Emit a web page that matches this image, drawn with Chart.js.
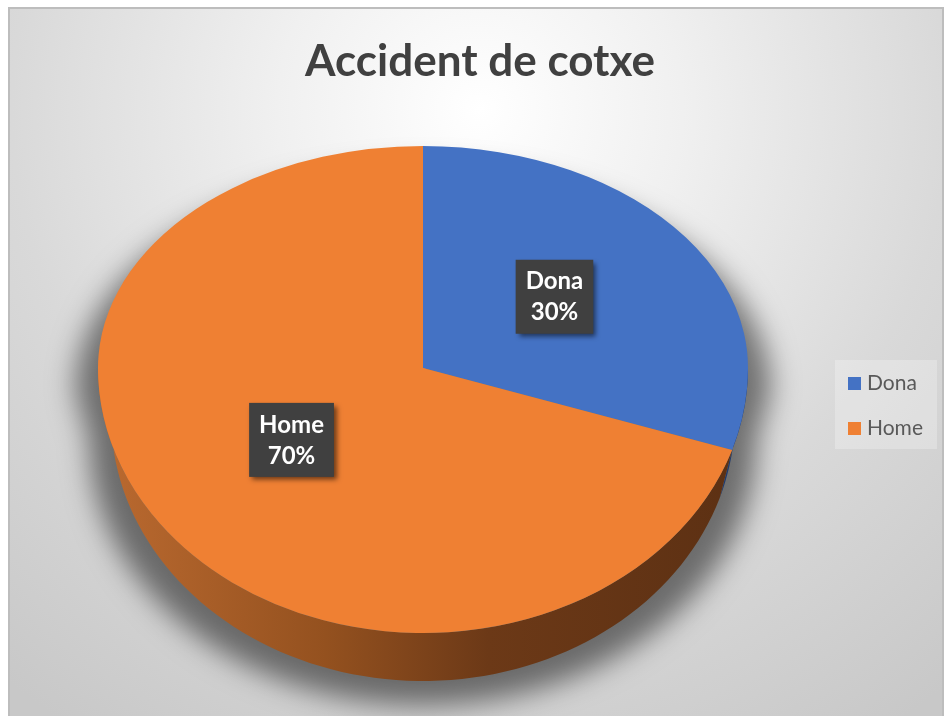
<!DOCTYPE html>
<html>
<head>
<meta charset="utf-8">
<script src="https://cdn.jsdelivr.net/npm/chart.js@4.4.1/dist/chart.umd.min.js"></script>
<style>
  html, body { margin: 0; padding: 0; background: #fff; }
  canvas { display: block; }
</style>
</head>
<body>
<canvas id="chart" width="946" height="716"></canvas>
<script>
// --- data ---
const categories = ['Dona', 'Home'];
const values = [30, 70];
const chartTitle = 'Accident de cotxe';

// --- style ---
const sliceColors = ['#4472c4', '#ef8033'];
const wallStops = [
    [[0, '#2f4f8c'], [1, '#1f3a6c']],
    [[0, '#bb6a30'], [0.35, '#94511f'], [0.6, '#6c3917'], [1, '#5c3013']]
];
// perspective pie: top face is split at cy, upper half flatter than lower half;
// the base ellipse sits lower and a bit narrower so the side tapers at both ends
const PIE = { cx: 423, cy: 368, rx: 325, ryTop: 222, ryBottom: 265, depth: 48, baseRx: 312 };

function ellipsePoint(t, f, dy, rx) {
    const ry = Math.sin(t) < 0 ? PIE.ryTop : PIE.ryBottom;
    return [PIE.cx + f * (rx || PIE.rx) * Math.cos(t), PIE.cy + f * ry * Math.sin(t) + dy];
}

function outlinePath(ctx, sx, shiftX) {
    const steps = 120;
    ctx.beginPath();
    for (let s = 0; s <= steps; s++) {
        const [x, y] = ellipsePoint(Math.PI + Math.PI * s / steps, 1, 0);
        const px = PIE.cx + (x - PIE.cx) * sx + shiftX;
        s ? ctx.lineTo(px, y) : ctx.moveTo(px, y);
    }
    for (let s = 0; s <= steps; s++) {
        const [x, y] = ellipsePoint(Math.PI * s / steps, 1, PIE.depth, PIE.baseRx);
        ctx.lineTo(PIE.cx + (x - PIE.cx) * sx + shiftX, y);
    }
    ctx.closePath();
}

const background = {
    id: 'background',
    beforeDraw(chart) {
        const ctx = chart.ctx;
        ctx.save();
        ctx.fillStyle = '#ffffff';
        ctx.fillRect(0, 0, chart.width, chart.height);
        const g = ctx.createRadialGradient(480, 110, 0, 480, 110, 780);
        g.addColorStop(0, '#ffffff');
        g.addColorStop(0.26, '#f0f0f0');
        g.addColorStop(0.6, '#d9d9d9');
        g.addColorStop(0.95, '#c8c8c8');
        ctx.fillStyle = g;
        ctx.fillRect(8, 7, 936, 709);
        ctx.strokeStyle = '#bdbdbd';
        ctx.lineWidth = 2;
        ctx.strokeRect(9, 8, 934, 712);
        ctx.restore();
    }
};

const pie3d = {
    id: 'pie3d',
    beforeDatasetsDraw(chart) {
        const ctx = chart.ctx;
        const arcs = chart.getDatasetMeta(0).data;
        // soft shadow behind the cylinder (shape drawn off-canvas, only its shadow lands here)
        ctx.save();
        ctx.shadowColor = 'rgba(0,0,0,0.5)';
        ctx.shadowBlur = 28;
        ctx.shadowOffsetX = -3000;
        ctx.shadowOffsetY = 24;
        ctx.fillStyle = '#000';
        outlinePath(ctx, 1.07, 3000);
        ctx.fill();
        ctx.restore();
        // front walls
        arcs.forEach((arc, i) => {
            const g = ctx.createLinearGradient(PIE.cx - PIE.rx, 0, PIE.cx + PIE.rx, 0);
            wallStops[i].forEach(([p, c]) => g.addColorStop(p, c));
            [-2 * Math.PI, 0, 2 * Math.PI].forEach(k => {
                const lo = Math.max(arc.startAngle, k);
                const hi = Math.min(arc.endAngle, k + Math.PI);
                if (lo >= hi) return;
                const steps = 80;
                ctx.beginPath();
                for (let s = 0; s <= steps; s++) {
                    const [x, y] = ellipsePoint(lo + (hi - lo) * s / steps, 1, 0);
                    s ? ctx.lineTo(x, y) : ctx.moveTo(x, y);
                }
                for (let s = steps; s >= 0; s--) {
                    const [x, y] = ellipsePoint(lo + (hi - lo) * s / steps, 1, PIE.depth, PIE.baseRx);
                    ctx.lineTo(x, y);
                }
                ctx.closePath();
                ctx.fillStyle = g;
                ctx.fill();
            });
        });
    },
    beforeDatasetDraw(chart, args) {
        const ctx = chart.ctx;
        const arcs = args.meta.data;
        const r = arcs[0].outerRadius;
        const ox = arcs[0].x, oy = arcs[0].y;
        [[true, PIE.ryTop], [false, PIE.ryBottom]].forEach(([upper, ry]) => {
            ctx.save();
            ctx.beginPath();
            if (upper) ctx.rect(0, 0, chart.width, PIE.cy + 1);
            else ctx.rect(0, PIE.cy, chart.width, chart.height);
            ctx.clip();
            ctx.translate(PIE.cx, PIE.cy);
            ctx.scale(PIE.rx / r, ry / r);
            ctx.translate(-ox, -oy);
            arcs.forEach(a => a.draw(ctx));
            ctx.restore();
        });
        return false;
    },
    afterDatasetsDraw(chart) {
        const ctx = chart.ctx;
        const arcs = chart.getDatasetMeta(0).data;
        const total = values.reduce((a, b) => a + b, 0);
        ctx.save();
        ctx.font = 'bold 24px Lato';
        ctx.textAlign = 'center';
        ctx.textBaseline = 'middle';
        arcs.forEach((arc, i) => {
            const mid = (arc.startAngle + arc.endAngle) / 2;
            const [x, y] = ellipsePoint(mid, 0.5, -6);
            const lines = [categories[i], Math.round(values[i] / total * 100) + '%'];
            const w = Math.max(...lines.map(l => ctx.measureText(l).width)) + 20;
            const h = 74;
            ctx.save();
            ctx.shadowColor = 'rgba(0,0,0,0.55)';
            ctx.shadowBlur = 5;
            ctx.shadowOffsetX = 3;
            ctx.shadowOffsetY = 3;
            ctx.fillStyle = '#404040';
            ctx.fillRect(x - w / 2, y - h / 2, w, h);
            ctx.restore();
            ctx.fillStyle = '#ffffff';
            ctx.fillText(lines[0], x, y - 15);
            ctx.fillText(lines[1], x, y + 16);
        });
        ctx.restore();
    },
    afterDraw(chart) {
        // legend panel on the right
        const ctx = chart.ctx;
        const ds = chart.data.datasets[0];
        ctx.save();
        ctx.fillStyle = 'rgba(255,255,255,0.25)';
        ctx.fillRect(835, 360, 102, 89);
        ctx.font = '21px Lato';
        ctx.textBaseline = 'alphabetic';
        chart.data.labels.forEach((label, i) => {
            ctx.fillStyle = ds.backgroundColor[i];
            ctx.fillRect(848, 377 + i * 45, 13, 13);
            ctx.fillStyle = '#595959';
            ctx.fillText(label, 867, 390 + i * 45);
        });
        ctx.restore();
    }
};

new Chart(document.getElementById('chart'), {
    type: 'pie',
    data: {
        labels: categories,
        datasets: [{
            data: values,
            backgroundColor: sliceColors,
            borderWidth: 0
        }]
    },
    options: {
        responsive: false,
        animation: false,
        layout: { padding: { left: 14 } },
        plugins: {
            legend: { display: false },
            tooltip: { enabled: false },
            title: {
                display: true,
                text: chartTitle,
                color: '#404040',
                font: { family: 'Lato', size: 44, weight: 'bold' },
                padding: { top: 35, bottom: 10 }
            }
        }
    },
    plugins: [background, pie3d]
});
</script>
</body>
</html>
